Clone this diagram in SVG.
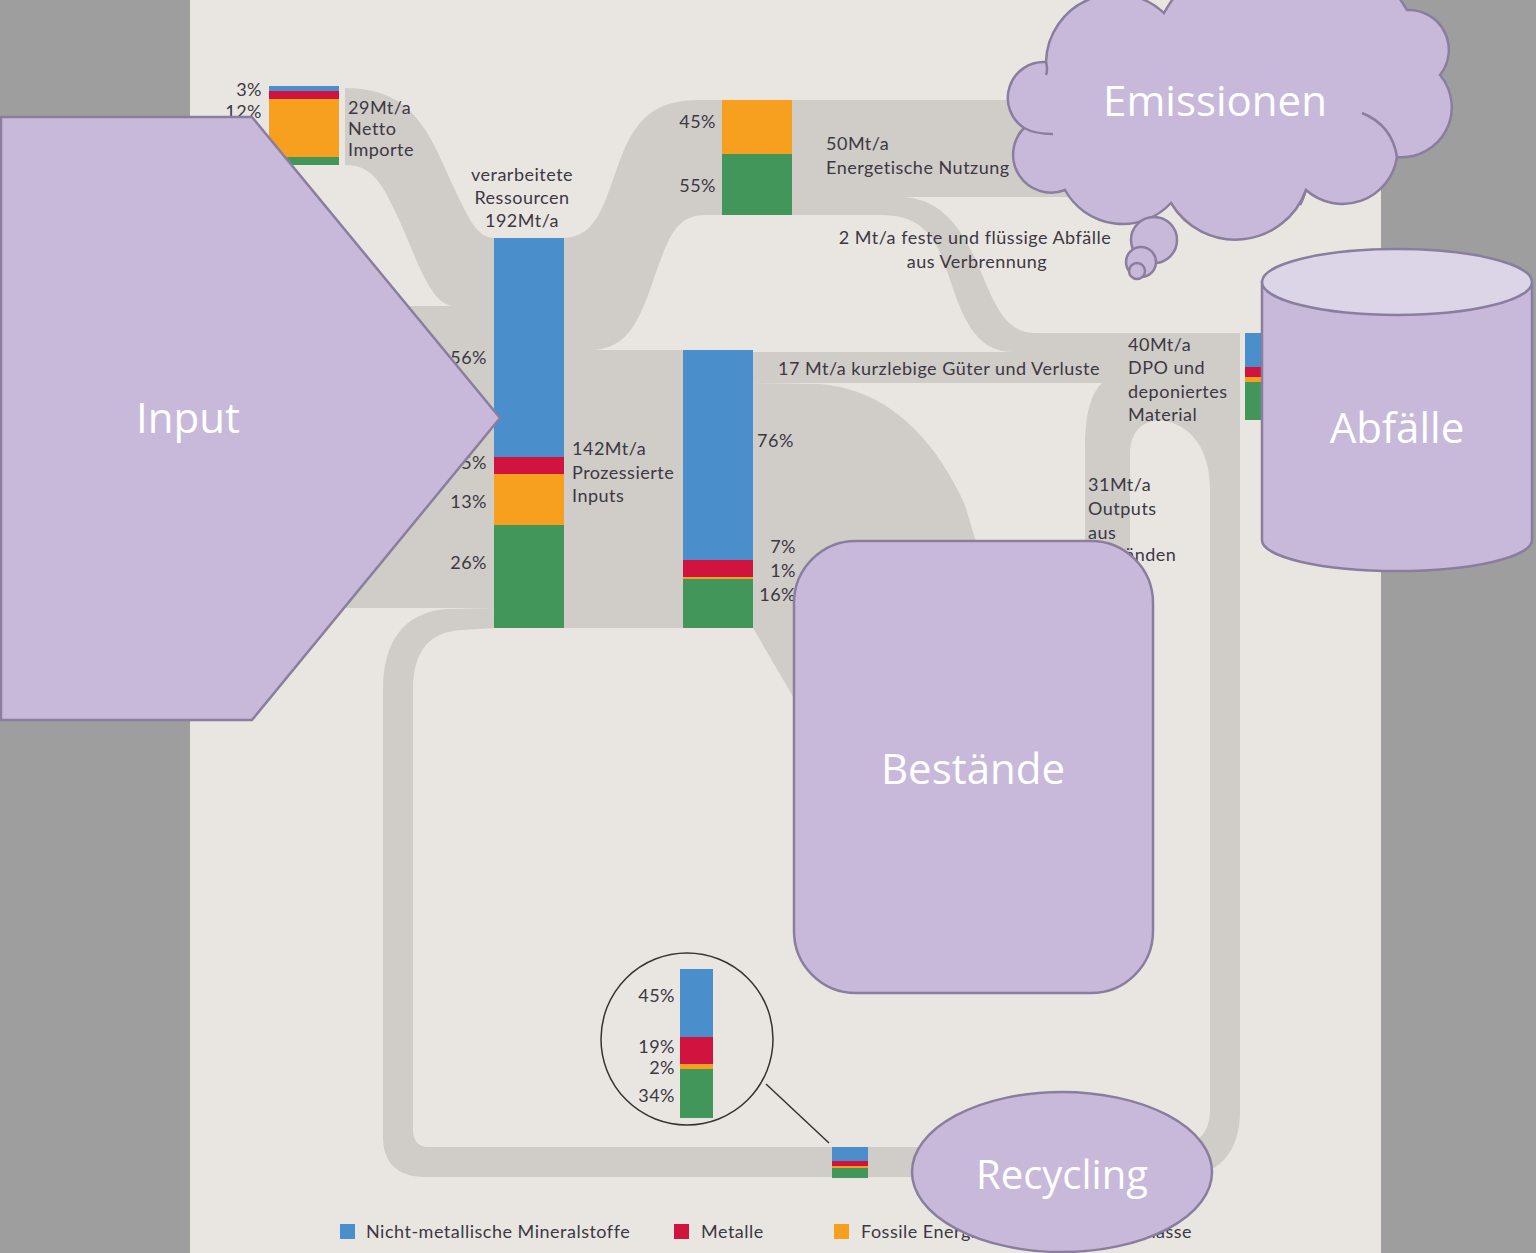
<svg xmlns="http://www.w3.org/2000/svg" width="1536" height="1253" viewBox="0 0 1536 1253">
<style>
.flow{fill:#d0ccc8}
.b{fill:#4a8ecb}.r{fill:#d1133f}.o{fill:#f7a01f}.g{fill:#43965a}
.t{font-family:Lato,"Liberation Sans",sans-serif;font-size:18px;letter-spacing:0.5px;fill:#3c3844}
.e{text-anchor:end}
.m{text-anchor:middle}
.shape{fill:#c8b9da;stroke:#8a7e9e;stroke-width:2.5}
.crease{fill:none;stroke:#8a7e9e;stroke-width:2.5}
.big{font-family:"Open Sans","Noto Sans",sans-serif;font-size:42px;fill:#fff;text-anchor:middle}
</style>
<rect width="1536" height="1253" fill="#9e9e9e"/>
<rect x="190" y="0" width="1191" height="1253" fill="#e9e6e1"/>

<g id="connectors">
<path class="flow" d="M345,88 C415,88 430,135 455,190 C470,222 478,238 495,238 L495,306 L452,306 C430,302 418,262 400,222 C382,182 372,165 345,165 Z"/>
<rect class="flow" x="190" y="306" width="305" height="302"/>
<path class="flow" d="M563,238 C598,238 605,200 620,160 C636,118 655,100 700,100 L722,100 L722,215 L705,215 C675,215 668,240 655,275 C640,320 628,350 590,350 L563,350 Z"/>
<rect class="flow" x="563" y="350" width="120" height="278"/>
<rect class="flow" x="792" y="100" width="320" height="97"/>
<path class="flow" d="M792,197 L900,197 C940,197 962,228 978,265 C994,302 1004,333 1035,333 L1040,333 L1040,352 L1012,352 C975,352 962,315 950,280 C938,240 925,215 880,215 L792,215 Z"/>
<rect class="flow" x="753" y="352" width="350" height="31"/>
<path class="flow" d="M1035,333 L1240,333 L1240,420 L1162,420 C1142,420 1130,432 1130,455 L1130,560 L1085,560 L1085,450 C1085,415 1090,395 1102,383 L1035,383 Z"/>
<path class="flow" d="M753,383 L820,384 C890,390 935,440 965,505 L1005,640 L830,760 L753,628 Z"/>
<path class="flow" d="M495,608 L447,609 C405,612 383,640 383,690 L383,1137 C383,1162 397,1177 425,1177 L1180,1177 C1218,1177 1240,1152 1240,1112 L1240,420 L1162,420 C1192,425 1210,450 1210,490 L1210,1110 C1210,1134 1196,1147 1172,1147 L428,1147 C418,1147 413,1140 413,1130 L413,690 C413,650 430,632 462,630 L495,628 Z"/>
<line x1="766" y1="1084" x2="829" y2="1143" stroke="#333" stroke-width="1.5"/>
</g>

<g id="bar-importe">
<rect class="b" x="269" y="86" width="70" height="5"/>
<rect class="r" x="269" y="91" width="70" height="8"/>
<rect class="o" x="269" y="99" width="70" height="58"/>
<rect class="g" x="269" y="157" width="70" height="8"/>
<text class="t e" x="262" y="96">3%</text>
<text class="t e" x="262" y="118">12%</text>
<text class="t" x="348" y="114">29Mt/a</text>
<text class="t" x="348" y="135">Netto</text>
<text class="t" x="348" y="156">Importe</text>
</g>

<g id="bar-ressourcen">
<rect class="b" x="494" y="238" width="70" height="219"/>
<rect class="r" x="494" y="457" width="70" height="17"/>
<rect class="o" x="494" y="474" width="70" height="51"/>
<rect class="g" x="494" y="525" width="70" height="103"/>
<text class="t m" x="522" y="181">verarbeitete</text>
<text class="t m" x="522" y="204">Ressourcen</text>
<text class="t m" x="522" y="227">192Mt/a</text>
<text class="t e" x="487" y="364">56%</text>
<text class="t e" x="487" y="469">5%</text>
<text class="t e" x="487" y="508">13%</text>
<text class="t e" x="487" y="569">26%</text>
<text class="t" x="572" y="455">142Mt/a</text>
<text class="t" x="572" y="479">Prozessierte</text>
<text class="t" x="572" y="502">Inputs</text>
</g>

<g id="bar-energie">
<rect class="o" x="722" y="100" width="70" height="54"/>
<rect class="g" x="722" y="154" width="70" height="61"/>
<text class="t e" x="716" y="128">45%</text>
<text class="t e" x="716" y="192">55%</text>
<text class="t" x="826" y="150">50Mt/a</text>
<text class="t" x="826" y="174">Energetische Nutzung</text>
<text class="t m" x="975" y="244">2 Mt/a feste und flüssige Abfälle</text>
<text class="t m" x="977" y="268">aus Verbrennung</text>
</g>

<g id="bar-prozessiert">
<rect class="b" x="683" y="350" width="70" height="210"/>
<rect class="r" x="683" y="560" width="70" height="17"/>
<rect class="o" x="683" y="577" width="70" height="2"/>
<rect class="g" x="683" y="579" width="70" height="49"/>
<text class="t" x="757" y="447">76%</text>
<text class="t e" x="796" y="553">7%</text>
<text class="t e" x="796" y="577">1%</text>
<text class="t e" x="796" y="601">16%</text>
<text class="t" x="778" y="375">17 Mt/a kurzlebige Güter und Verluste</text>
</g>

<g id="bar-dpo">
<rect class="b" x="1245" y="333" width="17" height="34"/>
<rect class="r" x="1245" y="367" width="17" height="10"/>
<rect class="o" x="1245" y="377" width="17" height="5"/>
<rect class="g" x="1245" y="382" width="17" height="38"/>
<text class="t" x="1128" y="351">40Mt/a</text>
<text class="t" x="1128" y="374">DPO und</text>
<text class="t" x="1128" y="398">deponiertes</text>
<text class="t" x="1128" y="421">Material</text>
<text class="t" x="1088" y="491">31Mt/a</text>
<text class="t" x="1088" y="515">Outputs</text>
<text class="t" x="1088" y="539">aus</text>
<text class="t" x="1088" y="561">Beständen</text>
</g>

<g id="bar-recycling">
<rect class="b" x="832" y="1147" width="36" height="14"/>
<rect class="r" x="832" y="1161" width="36" height="5"/>
<rect class="o" x="832" y="1166" width="36" height="2"/>
<rect class="g" x="832" y="1168" width="36" height="10"/>
<circle cx="687" cy="1039" r="86" fill="none" stroke="#333" stroke-width="1.5"/>
<rect class="b" x="680" y="969" width="33" height="68"/>
<rect class="r" x="680" y="1037" width="33" height="27"/>
<rect class="o" x="680" y="1064" width="33" height="5"/>
<rect class="g" x="680" y="1069" width="33" height="49"/>
<text class="t e" x="675" y="1002">45%</text>
<text class="t e" x="675" y="1053">19%</text>
<text class="t e" x="675" y="1074">2%</text>
<text class="t e" x="675" y="1102">34%</text>
</g>

<g id="legend">
<rect class="b" x="340" y="1224" width="15" height="15"/>
<text class="t" x="366" y="1238">Nicht-metallische Mineralstoffe</text>
<rect class="r" x="674" y="1224" width="15" height="15"/>
<text class="t" x="701" y="1238">Metalle</text>
<rect class="o" x="834" y="1224" width="15" height="15"/>
<text class="t" x="861" y="1238">Fossile Energieträger</text>
<rect class="g" x="1093" y="1224" width="15" height="15"/>
<text class="t e" x="1192" y="1238">Biomasse</text>
</g>

<g id="input">
<polygon class="shape" points="1,117 252,117 500,418 252,720 1,720"/>
<text class="big" x="188" y="433">Input</text>
</g>

<g id="emissionen">
<path class="shape" d="M1046,62 A70,70 0 0 1 1164,13 A140,140 0 0 1 1407,10 A40,40 0 0 1 1440,75 A50,50 0 0 1 1397,157 A55,55 0 0 1 1306,190 A75,75 0 0 1 1171,203 A66,66 0 0 1 1065,190 A38,38 0 0 1 1024,128 A36,36 0 0 1 1046,62 Z"/>
<path class="crease" d="M1362,113 Q1392,125 1397,157"/>
<path class="crease" d="M1053,134 Q1035,134 1024,128"/>
<path class="crease" d="M1046,62 Q1048,70 1046,75"/>
<path class="crease" d="M1306,190 Q1303,200 1300,205"/>
<circle class="shape" cx="1154" cy="240" r="23"/>
<circle class="shape" cx="1141" cy="262" r="15"/>
<circle class="shape" cx="1137" cy="271" r="8"/>
<text class="big" x="1215" y="116">Emissionen</text>
</g>

<g id="abfaelle">
<path class="shape" d="M1262,282 L1262,540 A135,31 0 0 0 1532,540 L1532,282 Z"/>
<ellipse class="shape" cx="1397" cy="282" rx="135" ry="33" style="fill:#dcd5e8"/>
<text class="big" x="1397" y="443">Abfälle</text>
</g>

<g id="bestaende">
<rect class="shape" x="794" y="541" width="359" height="452" rx="62"/>
<text class="big" x="973" y="784">Bestände</text>
</g>

<g id="recycling">
<ellipse class="shape" cx="1062" cy="1172" rx="150" ry="80"/>
<text class="big" x="1062" y="1189" style="font-size:40px">Recycling</text>
</g>
</svg>
